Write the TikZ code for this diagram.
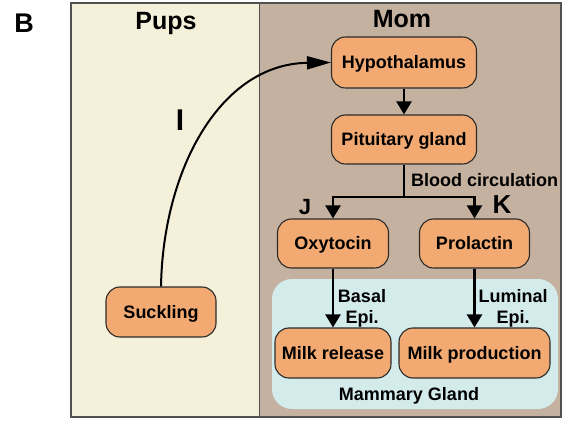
\documentclass[tikz,border=0pt]{standalone}
\usepackage{fontspec}
\setmainfont{Liberation Sans}
\usetikzlibrary{arrows.meta}
\definecolor{pupbg}{HTML}{F5F0DA}
\definecolor{mombg}{HTML}{C5B19F}
\definecolor{boxfill}{HTML}{F2AA72}
\definecolor{mamfill}{HTML}{D4EBEB}
\definecolor{edgecol}{HTML}{2B2B2B}
\definecolor{framecol}{HTML}{505050}
\begin{document}
\begin{tikzpicture}[x=1pt,y=-1pt,
  box/.style={draw=edgecol, line width=1.1pt, fill=boxfill, rounded corners=14pt,
    font=\bfseries\fontsize{18}{20}\selectfont, text height=12.9pt, text depth=0pt,
    inner sep=0pt, minimum height=50pt},
  flow/.style={line width=2.2pt, -{Triangle[length=13pt,width=15pt]}},
  link/.style={line width=2.2pt},
  lbl/.style={font=\bfseries\fontsize{18}{20}\selectfont, inner sep=0pt, anchor=base},
  head/.style={font=\bfseries\fontsize{25}{28}\selectfont, inner sep=0pt, anchor=base},
  ]
\useasboundingbox (0,0) rectangle (565,422);
% panels
\fill[pupbg] (71,3) rectangle (259,417);
\fill[mombg] (259,3) rectangle (561,417);
\draw[line width=0.9pt, draw=framecol] (259,3) -- (259,417);
\draw[line width=1.6pt, draw=framecol] (71,3) rectangle (561,417);
% mammary gland region
\node[fill=mamfill, rounded corners=20pt, minimum width=286pt, minimum height=130pt, inner sep=0pt] (mam) at (415,344) {};
\node[lbl] (mamlbl) at (409,400) {Mammary Gland};
% headings
\node[head, font=\bfseries\fontsize{27}{30}\selectfont] (panelB) at (24,33) {B};
\node[head] (pups) at (166,30) {Pups};
\node[head] (mom) at (402,28) {Mom};
% boxes
\node[box, minimum width=145pt, minimum height=51pt] (hyp) at (404,62.5) {Hypothalamus};
\node[box, minimum width=145pt, minimum height=49pt] (pit) at (404,139.5) {Pituitary gland};
\node[box, minimum width=111pt, minimum height=49pt] (oxy) at (333,243.5) {Oxytocin};
\node[box, minimum width=110pt, minimum height=49pt] (pro) at (474.5,243.5) {Prolactin};
\node[box, minimum width=116pt, minimum height=50pt] (mr) at (333,353) {Milk release};
\node[box, minimum width=151pt, minimum height=50pt] (mp) at (474.5,353) {Milk production};
\node[box, minimum width=110pt, minimum height=50pt] (suck) at (161,312) {Suckling};
% connectors
\draw[flow] (hyp) -- (pit);
\coordinate (br) at (404,197);
\draw[link] (pit.south) -- (br);
\draw[flow] (br) -| (oxy.north);
\draw[flow] (br) -| (pro.north);
\draw[flow] (oxy) -- (mr);
\draw[flow] (pro) -- (mp);
\draw[line width=2pt, -{Triangle[length=24pt,width=13pt]}] (suck.north) .. controls (163,170) and (220,64) .. (hyp.west);
% labels
\node[lbl, anchor=base west] (blood) at (411,187) {Blood circulation};
\node[lbl] (basal1) at (362,302) {Basal};
\node[lbl] (basal2) at (362,323) {Epi.};
\node[lbl] (lum1) at (513,302) {Luminal};
\node[lbl] (lum2) at (513,323) {Epi.};
\node[head, font=\bfseries\fontsize{22}{24}\selectfont] (jlbl) at (305,215) {J};
\node[head, font=\bfseries\fontsize{26}{28}\selectfont] (klbl) at (502,214) {K};
\node[head, font=\bfseries\fontsize{30}{32}\selectfont] (ilbl) at (180,131) {I};
\end{tikzpicture}
\end{document}
